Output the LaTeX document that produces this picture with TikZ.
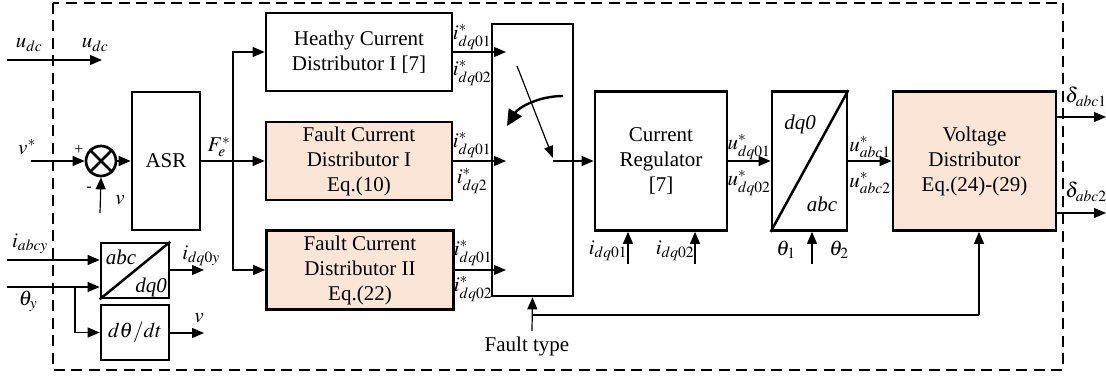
\documentclass[tikz,border=0pt]{standalone}
\usepackage{mathptmx}
\usepackage{fontspec}
\setmainfont{Liberation Serif}
\usetikzlibrary{arrows.meta,calc}

\definecolor{peach}{HTML}{FBE5D6}

\begin{document}
\begin{tikzpicture}[x=1pt,y=-1pt,
  font=\fontsize{21}{25}\selectfont,
  blk/.style={draw=black, line width=2.7pt, align=center, inner sep=0pt},
  faultblk/.style={blk, fill=peach},
  wire/.style={line width=1.2pt},
  arr/.style={wire, -{Triangle[length=12pt,width=10pt]}},
  lbl/.style={inner sep=0pt},
  sgn/.style={inner sep=0pt, font=\fontsize{16}{16}\selectfont},
]
\useasboundingbox (0,0) rectangle (1106,379);

% controller boundary
\draw[line width=2.4pt, dash pattern=on 11pt off 6.5pt] (53,3) rectangle (1063,370);

% ---------- blocks ----------
\node[circle, draw, line width=2.7pt, minimum size=30pt, inner sep=0pt] (sum) at (101,161) {};
\draw[line width=2.5pt] (sum.north west) -- (sum.south east) (sum.north east) -- (sum.south west);

\node[blk, minimum width=68pt, minimum height=138pt] (asr) at (166,161) {ASR};
\node[blk, minimum width=186pt, minimum height=78pt] (heal) at (359,52) {Heathy Current\\Distributor I [7]};
\node[faultblk, minimum width=186pt, minimum height=78pt] (fc1) at (359,161) {Fault Current\\Distributor I\\Eq.(10)};
\node[faultblk, minimum width=187pt, minimum height=79pt] (fc2) at (360,270) {Fault Current\\Distributor II\\Eq.(22)};
\node[blk, minimum width=81pt, minimum height=272pt] (sw) at (532.5,160) {};
\node[blk, minimum width=132pt, minimum height=139pt] (cr) at (661,161) {Current\\Regulator\\{[7]}};
\node[blk, minimum width=75pt, minimum height=139pt] (dq) at (809.5,161) {};
\draw[line width=2.5pt] (dq.south west) -- (dq.north east);
\node[lbl] (dqa) at (800,124) {\textit{dq0}};
\node[lbl] (dqb) at (822,204) {\textit{abc}};
\node[faultblk, minimum width=163pt, minimum height=139pt] (vd) at (974.5,161) {Voltage\\Distributor\\Eq.(24)-(29)};

\node[blk, minimum width=68pt, minimum height=55pt] (tr) at (135,270.5) {};
\draw[line width=2.5pt] (tr.south west) -- (tr.north east);
\node[lbl] (tra) at (121,257) {\textit{abc}};
\node[lbl] (trb) at (151,287) {\textit{dq0}};
\node[blk, minimum width=68pt, minimum height=55pt] (ddt) at (135,332.5) {$d\theta/dt$};

% ---------- free ends ----------
\coordinate (udcin) at (7,60);
\coordinate (udcout) at (102,60);
\coordinate (vin) at (31,161);
\coordinate (vfb) at (100,213);
\coordinate (bj) at (233,161);
\coordinate (s1) at (506,52);
\coordinate (s2) at (506,161);
\coordinate (s3) at (506,270);
\coordinate (swa) at (517,66);
\coordinate (swb) at (553,158);
\coordinate (cu1) at (563,96);
\coordinate (cu2) at (507,126);
\coordinate (ci1) at (628,264);
\coordinate (ci2) at (695,264);
\coordinate (ti) at (812,264);
\coordinate (do1) at (1106,117);
\coordinate (do2) at (1106,213);
\coordinate (fbL) at (532,315);
\coordinate (fbR) at (979,315);
\coordinate (ftin) at (532,331);
\coordinate (iin) at (7,260);
\coordinate (thin) at (7,287);
\coordinate (tb) at (75,287);
\coordinate (iout) at (204,270);
\coordinate (vout) at (204,333);

% ---------- connectors ----------
\draw[arr] (udcin) -- (udcout);
\draw[arr] (vin) -- (sum.west);
\draw[arr] (vfb) -- (sum.south);
\draw[arr] (sum.east) -- (asr.west |- sum.east);
\draw[arr] (asr.east) -- (fc1.west);
\draw[arr] (bj) |- (heal.west);
\draw[arr] (bj) |- (fc2.west);
\draw[arr] (heal.east) -- (s1);
\draw[arr] (fc1.east) -- (s2);
\draw[arr] (fc2.east) -- (s3);
\draw[wire, -{Triangle[length=12pt,width=9pt]}] (swa) -- (swb);
\draw[arr] (swb |- cr.west) -- (cr.west);
\draw[line width=2.4pt, -{Triangle[length=16pt,width=15pt]}] (cu1) .. controls (538,96) and (518,108) .. (cu2);
\draw[arr] (cr.east) -- (dq.west);
\draw[arr] (dq.east) -- (vd.west);
\draw[arr] (ci1) -- (ci1 |- cr.south);
\draw[arr] (ci2) -- (ci2 |- cr.south);
\draw[arr] (ti) -- (ti |- dq.south);
\draw[arr] (vd.east |- do1) -- (do1);
\draw[arr] (vd.east |- do2) -- (do2);
\draw[wire] (fbL) -- (fbR);
\draw[arr] (fbR) -- (fbR |- vd.south);
\draw[arr] (ftin) -- (sw.south);
\draw[arr] (iin) -- (tr.west |- iin);
\draw[arr] (thin) -- (tr.west |- thin);
\draw[arr] (tb) |- (ddt.west);
\draw[arr] (tr.east |- iout) -- (iout);
\draw[arr] (ddt.east |- vout) -- (vout);

% ---------- labels ----------
\node[lbl] (ludc1) at (29,45) {$u_{dc}$};
\node[lbl] (ludc2) at (95,45) {$u_{dc}$};
\node[lbl] (lvs) at (27,147) {$v^{*}$};
\node[sgn] (plus) at (79,150) {+};
\node[sgn] (minus) at (89,189) {-};
\node[lbl] (lv) at (120,200) {$v$};
\node[lbl] (lfe) at (219,147) {$F_e^{*}$};
\node[lbl] (la1) at (472,37) {$i^{*}_{dq01}$};
\node[lbl] (la2) at (472,73) {$i^{*}_{dq02}$};
\node[lbl] (lb1) at (472,145) {$i^{*}_{dq01}$};
\node[lbl] (lb2) at (472,181) {$i^{*}_{dq2}$};
\node[lbl] (lc1) at (473,253) {$i^{*}_{dq01}$};
\node[lbl] (lc2) at (473,289) {$i^{*}_{dq02}$};
\node[lbl] (lu1) at (749,147) {$u^{*}_{dq01}$};
\node[lbl] (lu2) at (749,183) {$u^{*}_{dq02}$};
\node[lbl] (lw1) at (870,147) {$u^{*}_{abc1}$};
\node[lbl] (lw2) at (870,183) {$u^{*}_{abc2}$};
\node[lbl] (ld1) at (1086,97) {$\delta_{abc1}$};
\node[lbl] (ld2) at (1086,192) {$\delta_{abc2}$};
\node[lbl] (li1) at (608,251) {$i_{dq01}$};
\node[lbl] (li2) at (675,251) {$i_{dq02}$};
\node[lbl] (lt1) at (786,250) {$\theta_1$};
\node[lbl] (lt2) at (839,250) {$\theta_2$};
\node[lbl] (ft) at (527,346) {Fault type};
\node[lbl] (liabc) at (30,244) {$i_{abcy}$};
\node[lbl] (lthy) at (28,301) {$\theta_y$};
\node[lbl] (lidq) at (201,256) {$i_{dq0y}$};
\node[lbl] (lvo) at (199,318) {$v$};
\end{tikzpicture}
\end{document}
